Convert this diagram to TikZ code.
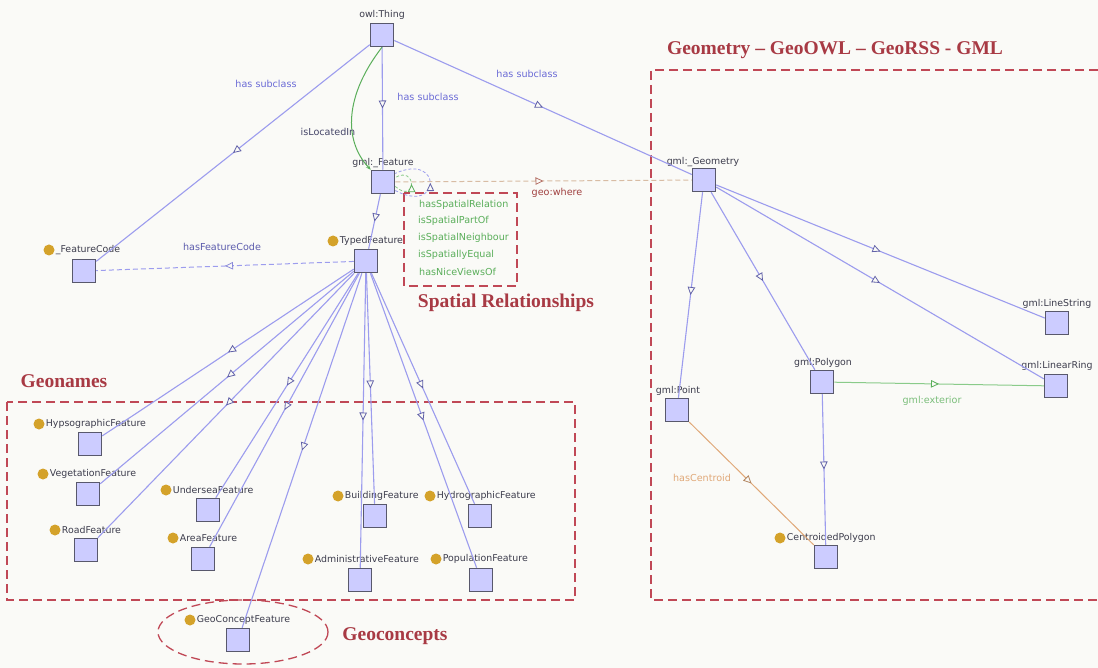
\documentclass[tikz,border=0pt]{standalone}
\usepackage{fontspec}
\setmainfont{Liberation Serif}
\setsansfont{DejaVu Sans}
\usetikzlibrary{arrows.meta,decorations.markings,shapes.geometric}

\definecolor{bg}{HTML}{FAFAF7}
\definecolor{nodefill}{HTML}{CCCCFF}
\definecolor{nodeline}{HTML}{58586C}
\definecolor{subedge}{HTML}{9C9CEE}
\definecolor{tipcol}{HTML}{6262A8}
\definecolor{subtext}{HTML}{6A6AD6}
\definecolor{nametext}{HTML}{3C3C4C}
\definecolor{relgreen}{HTML}{5AAE5A}
\definecolor{lightgreen}{HTML}{8ACB8A}
\definecolor{centroid}{HTML}{E0A878}
\definecolor{wherecol}{HTML}{D8BCA4}
\definecolor{wheretext}{HTML}{A04040}
\definecolor{boxred}{HTML}{C04856}
\definecolor{titlered}{HTML}{A83A44}
\definecolor{dotgold}{HTML}{D4A22A}

\tikzset{
  cls/.style={draw=nodeline, fill=nodefill, line width=1.5pt, minimum size=23pt, inner sep=0pt},
  clsname/.style={font=\sffamily\fontsize{9.4}{10}\selectfont, text=nametext, inner sep=0.5pt},
  golddot/.style={circle, fill=dotgold, minimum size=11pt, inner sep=0pt},
  elabel/.style={font=\sffamily\fontsize{9.6}{10}\selectfont, inner sep=0.5pt},
  midtip/.style={postaction={decorate, decoration={markings,
      mark=at position 0.5 with {\arrow{Triangle[length=8pt,width=7.5pt,fill=bg,color=#1,line width=0.8pt]}}}}},
  sub/.style={draw=subedge, line width=1.1pt, midtip=tipcol},
  region/.style={draw=boxred, line width=1.3pt, dash pattern=on 9pt off 5pt},
  grouptitle/.style={font=\bfseries\fontsize{19.5}{21}\selectfont, text=titlered, inner sep=0pt},
  spat/.style={font=\sffamily\fontsize{9.6}{10}\selectfont, text=relgreen, inner sep=0pt, anchor=west}
}

\begin{document}
\begin{tikzpicture}[x=1pt,y=-1pt]
\fill[bg] (0,0) rectangle (1098,668);
\useasboundingbox (0,0) rectangle (1098,668);

% ---- grouping frames and titles ----
\draw[region] (7,402) rectangle (575,600);
\draw[region] (404,193) rectangle (517,286);
\draw[region] (1098,70) -- (651,70) -- (651,600) -- (1098,600);
\draw[region] (243,632) ellipse [x radius=85, y radius=32];
\node[grouptitle] (tgeom) at (835,50) {Geometry -- GeoOWL -- GeoRSS - GML};
\node[grouptitle] (tspat) at (506,303) {Spatial Relationships};
\node[grouptitle] (tnames) at (64,381) {Geonames};
\node[grouptitle] (tconc) at (395,636) {Geoconcepts};

% ---- classes ----
\node[cls] (thing) at (382,35) {};
\node[cls] (feat) at (383,182) {};
\node[cls] (typed) at (366,261) {};
\node[cls] (fcode) at (84,271) {};
\node[cls] (geom) at (704,180) {};
\node[cls] (lstr) at (1057,323) {};
\node[cls] (lring) at (1056,386) {};
\node[cls] (poly) at (822,382) {};
\node[cls] (point) at (677,410) {};
\node[cls] (cpoly) at (826,557) {};
\node[cls] (hyps) at (90,444) {};
\node[cls] (veg) at (88,494) {};
\node[cls] (road) at (86,550) {};
\node[cls] (under) at (208,510) {};
\node[cls] (area) at (203,559) {};
\node[cls] (build) at (375,516) {};
\node[cls] (hydro) at (480,516) {};
\node[cls] (admin) at (360,580) {};
\node[cls] (pop) at (481,580) {};
\node[cls] (geoc) at (238,640) {};

% ---- class names without markers ----
\node[clsname] (thing-n) at (382,15) {owl:Thing};
\node[clsname] (feat-n) at (383,163) {gml:\_Feature};
\node[clsname] (geom-n) at (703,162) {gml:\_Geometry};
\node[clsname] (lstr-n) at (1057,304) {gml:LineString};
\node[clsname] (lring-n) at (1057,366) {gml:LinearRing};
\node[clsname] (poly-n) at (823,363) {gml:Polygon};
\node[clsname] (point-n) at (678,391) {gml:Point};

% ---- class names with gold markers ----
\foreach \id/\x/\y/\txt in {
  typed/333/241/TypedFeature,
  fcode/49/250/\_FeatureCode,
  cpoly/780/538/CentroidedPolygon,
  hyps/39/424/HypsographicFeature,
  veg/43/474/VegetationFeature,
  road/55/530/RoadFeature,
  under/166/490/UnderseaFeature,
  area/173/538/AreaFeature,
  build/338/496/BuildingFeature,
  hydro/430/496/HydrographicFeature,
  admin/308/559/AdministrativeFeature,
  pop/436/559/PopulationFeature,
  geoc/190/620/GeoConceptFeature}{
  \node[golddot] (\id-d) at (\x,\y) {};
  \node[clsname, anchor=west] (\id-n) at ([xshift=0.5pt]\id-d.east) {\txt};
}

% ---- subclass edges ----
\draw[sub] (thing) -- (fcode);
\draw[sub] (thing) -- (feat);
\draw[sub] (thing) -- (geom);
\draw[sub] (feat) -- (typed);
\foreach \c in {hyps,veg,road,under,area,geoc,admin,build,hydro,pop}
  \draw[sub] (typed) -- (\c);
\draw[sub] (geom) -- (point);
\draw[sub] (geom) -- (poly);
\draw[sub] (geom) -- (lstr);
\draw[sub] (geom) -- (lring);
\draw[sub] (poly) -- (cpoly);

\node[elabel, text=subtext] (l1) at (266,84) {has subclass};
\node[elabel, text=subtext] (l2) at (428,97) {has subclass};
\node[elabel, text=subtext] (l3) at (527,74) {has subclass};

% ---- object properties ----
\draw[relgreen, line width=1pt, -{Stealth[length=5pt,width=4pt]}]
  (thing.south) .. controls (345,95) and (343,140) .. (feat.north west);
\node[elabel, text=nametext!80!subtext] (l4) at (328,132) {isLocatedIn};

\draw[subedge, line width=1pt, dash pattern=on 5pt off 3pt, midtip=subedge!70!tipcol]
  (typed) -- (fcode);
\node[elabel, text=subtext!70!nametext] (l5) at (222,247) {hasFeatureCode};

\draw[wherecol, line width=1pt, dash pattern=on 5pt off 3pt, midtip=wheretext!60!wherecol]
  (feat) -- (geom);
\node[elabel, text=wheretext] (l6) at (557,193) {geo:where};

\draw[lightgreen, line width=1pt, midtip=relgreen] (poly) -- (lring);
\node[elabel, text=relgreen!80] (l7) at (932,401) {gml:exterior};

\draw[centroid, line width=1pt, midtip=centroid!80!black] (point) -- (cpoly);
\node[elabel, text=centroid] (l8) at (702,478) {hasCentroid};

% self relations of gml:_Feature
\draw[lightgreen, line width=0.8pt, dash pattern=on 3pt off 2pt, midtip=relgreen]
  (feat.-20) .. controls (417,205) and (417,165) .. (feat.20);
\draw[subedge, line width=0.8pt, dash pattern=on 3pt off 2pt, midtip=tipcol]
  (feat.-35) .. controls (442,215) and (442,152) .. (feat.35);

% spatial relation names
\node[spat] (s1) at (419,205) {hasSpatialRelation};
\node[spat] (s2) at (418,221) {isSpatialPartOf};
\node[spat] (s3) at (418,238) {isSpatialNeighbour};
\node[spat] (s4) at (418,255) {isSpatiallyEqual};
\node[spat] (s5) at (419,272) {hasNiceViewsOf};
\end{tikzpicture}
\end{document}
